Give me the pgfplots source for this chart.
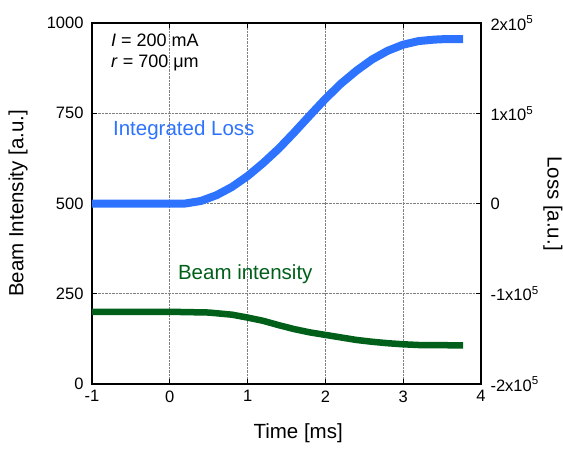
\documentclass[border=0pt]{standalone}
\usepackage{pgfplots}
\pgfplotsset{compat=1.18}
\usepackage{fontspec}
\setmainfont{Liberation Sans}
\definecolor{lossblue}{RGB}{45,115,255}
\definecolor{beamgreen}{RGB}{0,96,25}
\begin{document}
\begin{tikzpicture}
\path[use as bounding box] (-92pt,-64pt) rectangle (471pt,384pt);
\begin{axis}[
    at={(0,0)}, anchor=south west, scale only axis,
    width=389pt, height=361pt,
    xmin=-1, xmax=4, ymin=0, ymax=1000,
    xtick={-1,0,...,4}, ytick={0,250,500,750,1000},
    xtick pos=both, ytick pos=left, tick align=inside,
    major tick length=5pt,
    axis line style={line width=1.6pt},
    every tick/.style={line width=1pt, black},
    grid=major, major grid style={densely dotted, gray, line width=0.8pt},
    /pgf/number format/assume math mode=true,
    /pgf/number format/1000 sep={},
    tick label style={font=\fontsize{16.5}{19}\selectfont},
    xticklabel style={yshift=-3pt},
    yticklabel style={xshift=-5pt},
    xlabel={Time [ms]}, ylabel={Beam Intensity [a.u.]},
    every axis x label/.style={at={(axis description cs:0.53,-0.136)}, anchor=center, font=\fontsize{20.5}{24}\selectfont},
    every axis y label/.style={at={(axis description cs:-0.19,0.5)}, rotate=90, anchor=center, font=\fontsize{20.5}{24}\selectfont},
]
\addplot[lossblue, line width=8pt, line join=round] coordinates {
    (-1,500) (0,500) (0.2,500) (0.4,507) (0.6,523) (0.8,546) (1.0,576)
    (1.2,612) (1.4,652) (1.6,697) (1.8,744) (2.0,790) (2.2,832) (2.4,868)
    (2.6,899) (2.8,923) (3.0,940) (3.2,950) (3.4,954) (3.5,955) (3.77,955)
};
\addplot[beamgreen, line width=6.5pt, line join=round] coordinates {
    (-1,200) (0,200) (0.5,198) (0.8,192) (1.0,184) (1.2,175) (1.4,163)
    (1.6,152) (1.8,143) (2.0,136) (2.2,129) (2.4,122) (2.6,117) (2.8,113)
    (3.0,110) (3.2,108) (3.77,107)
};
\node[anchor=west, inner sep=0pt, font=\fontsize{18}{22}\selectfont] at (axis cs:-0.756,953) {\textit{I} = 200 mA};
\node[anchor=west, inner sep=0pt, font=\fontsize{18}{22}\selectfont] at (axis cs:-0.756,889) {\textit{r} = 700 μm};
\node[lossblue, font=\fontsize{20.5}{24}\selectfont] at (axis cs:0.18,704) {Integrated Loss};
\node[beamgreen, font=\fontsize{20.5}{24}\selectfont] at (axis cs:0.97,305) {Beam intensity};
\end{axis}
\begin{axis}[
    at={(0,0)}, anchor=south west, scale only axis,
    width=389pt, height=361pt,
    xmin=-1, xmax=4, ymin=-2e5, ymax=2e5,
    hide x axis, axis y line*=right,
    scaled y ticks=false,
    ytick={-2e5,-1e5,0,1e5,2e5},
    yticklabels={-2x10\textsuperscript{5},-1x10\textsuperscript{5},0,1x10\textsuperscript{5},2x10\textsuperscript{5}},
    tick align=inside, major tick length=5pt,
    axis line style={line width=1.6pt},
    every tick/.style={line width=1pt, black},
    tick label style={font=\fontsize{16.5}{19}\selectfont},
    yticklabel style={xshift=6pt, anchor=west},
    ylabel={Loss [a.u.]},
    every axis y label/.style={at={(axis description cs:1.185,0.5)}, rotate=-90, anchor=center, font=\fontsize{20.5}{24}\selectfont},
]
\end{axis}
\end{tikzpicture}
\end{document}
